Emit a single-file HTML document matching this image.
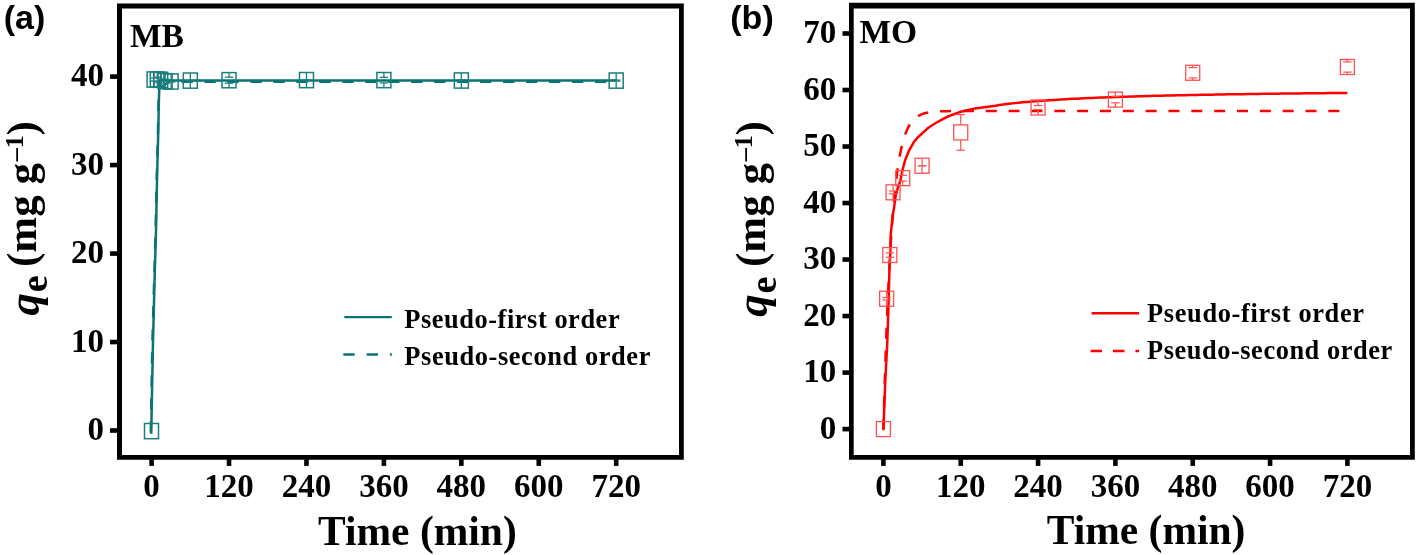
<!DOCTYPE html>
<html><head><meta charset="utf-8"><style>
html,body{margin:0;padding:0;background:#fff;}
body{width:1418px;height:555px;overflow:hidden;font-family:"Liberation Serif",serif;}
svg{display:block;will-change:transform;}
</style></head><body>
<svg width="1418" height="555" viewBox="0 0 1418 555">
<rect width="1418" height="555" fill="#fff"/>
<path fill-rule="evenodd" fill="#000" d="M117,3.5H683.8V459.7H117Z M122,8.6V455H679V8.6Z"/>
<rect x="110.00" y="428.20" width="7.50" height="4.60" fill="#000"/>
<text x="104.0" y="440.00" text-anchor="end" font-family="Liberation Serif" font-weight="bold" font-size="33">0</text>
<rect x="110.00" y="339.72" width="7.50" height="4.60" fill="#000"/>
<text x="104.0" y="351.52" text-anchor="end" font-family="Liberation Serif" font-weight="bold" font-size="33">10</text>
<rect x="110.00" y="251.25" width="7.50" height="4.60" fill="#000"/>
<text x="104.0" y="263.05" text-anchor="end" font-family="Liberation Serif" font-weight="bold" font-size="33">20</text>
<rect x="110.00" y="162.77" width="7.50" height="4.60" fill="#000"/>
<text x="104.0" y="174.57" text-anchor="end" font-family="Liberation Serif" font-weight="bold" font-size="33">30</text>
<rect x="110.00" y="74.30" width="7.50" height="4.60" fill="#000"/>
<text x="104.0" y="86.10" text-anchor="end" font-family="Liberation Serif" font-weight="bold" font-size="33">40</text>
<rect x="149.30" y="459.20" width="4.60" height="6.70" fill="#000"/>
<text x="151.60" y="497.1" text-anchor="middle" font-family="Liberation Serif" font-weight="bold" font-size="33">0</text>
<rect x="226.73" y="459.20" width="4.60" height="6.70" fill="#000"/>
<text x="229.03" y="497.1" text-anchor="middle" font-family="Liberation Serif" font-weight="bold" font-size="33">120</text>
<rect x="304.17" y="459.20" width="4.60" height="6.70" fill="#000"/>
<text x="306.47" y="497.1" text-anchor="middle" font-family="Liberation Serif" font-weight="bold" font-size="33">240</text>
<rect x="381.60" y="459.20" width="4.60" height="6.70" fill="#000"/>
<text x="383.90" y="497.1" text-anchor="middle" font-family="Liberation Serif" font-weight="bold" font-size="33">360</text>
<rect x="459.03" y="459.20" width="4.60" height="6.70" fill="#000"/>
<text x="461.33" y="497.1" text-anchor="middle" font-family="Liberation Serif" font-weight="bold" font-size="33">480</text>
<rect x="536.47" y="459.20" width="4.60" height="6.70" fill="#000"/>
<text x="538.77" y="497.1" text-anchor="middle" font-family="Liberation Serif" font-weight="bold" font-size="33">600</text>
<rect x="613.90" y="459.20" width="4.60" height="6.70" fill="#000"/>
<text x="616.20" y="497.1" text-anchor="middle" font-family="Liberation Serif" font-weight="bold" font-size="33">720</text>
<path fill-rule="evenodd" fill="#000" d="M849,2.7H1414.8V459.7H849Z M853.7,8.5V455.1H1410V8.5Z"/>
<rect x="842.50" y="426.80" width="7.00" height="4.60" fill="#000"/>
<text x="836.2" y="438.60" text-anchor="end" font-family="Liberation Serif" font-weight="bold" font-size="33">0</text>
<rect x="842.50" y="370.29" width="7.00" height="4.60" fill="#000"/>
<text x="836.2" y="382.09" text-anchor="end" font-family="Liberation Serif" font-weight="bold" font-size="33">10</text>
<rect x="842.50" y="313.77" width="7.00" height="4.60" fill="#000"/>
<text x="836.2" y="325.57" text-anchor="end" font-family="Liberation Serif" font-weight="bold" font-size="33">20</text>
<rect x="842.50" y="257.26" width="7.00" height="4.60" fill="#000"/>
<text x="836.2" y="269.06" text-anchor="end" font-family="Liberation Serif" font-weight="bold" font-size="33">30</text>
<rect x="842.50" y="200.74" width="7.00" height="4.60" fill="#000"/>
<text x="836.2" y="212.54" text-anchor="end" font-family="Liberation Serif" font-weight="bold" font-size="33">40</text>
<rect x="842.50" y="144.23" width="7.00" height="4.60" fill="#000"/>
<text x="836.2" y="156.03" text-anchor="end" font-family="Liberation Serif" font-weight="bold" font-size="33">50</text>
<rect x="842.50" y="87.71" width="7.00" height="4.60" fill="#000"/>
<text x="836.2" y="99.51" text-anchor="end" font-family="Liberation Serif" font-weight="bold" font-size="33">60</text>
<rect x="842.50" y="31.20" width="7.00" height="4.60" fill="#000"/>
<text x="836.2" y="43.00" text-anchor="end" font-family="Liberation Serif" font-weight="bold" font-size="33">70</text>
<rect x="881.10" y="459.20" width="4.60" height="6.70" fill="#000"/>
<text x="883.40" y="497.1" text-anchor="middle" font-family="Liberation Serif" font-weight="bold" font-size="33">0</text>
<rect x="958.43" y="459.20" width="4.60" height="6.70" fill="#000"/>
<text x="960.73" y="497.1" text-anchor="middle" font-family="Liberation Serif" font-weight="bold" font-size="33">120</text>
<rect x="1035.77" y="459.20" width="4.60" height="6.70" fill="#000"/>
<text x="1038.07" y="497.1" text-anchor="middle" font-family="Liberation Serif" font-weight="bold" font-size="33">240</text>
<rect x="1113.10" y="459.20" width="4.60" height="6.70" fill="#000"/>
<text x="1115.40" y="497.1" text-anchor="middle" font-family="Liberation Serif" font-weight="bold" font-size="33">360</text>
<rect x="1190.43" y="459.20" width="4.60" height="6.70" fill="#000"/>
<text x="1192.73" y="497.1" text-anchor="middle" font-family="Liberation Serif" font-weight="bold" font-size="33">480</text>
<rect x="1267.77" y="459.20" width="4.60" height="6.70" fill="#000"/>
<text x="1270.07" y="497.1" text-anchor="middle" font-family="Liberation Serif" font-weight="bold" font-size="33">600</text>
<rect x="1345.10" y="459.20" width="4.60" height="6.70" fill="#000"/>
<text x="1347.40" y="497.1" text-anchor="middle" font-family="Liberation Serif" font-weight="bold" font-size="33">720</text>
<text x="130" y="46.6" font-family="Liberation Serif" font-weight="bold" font-size="33.5">MB</text>
<text x="859.5" y="43.4" font-family="Liberation Serif" font-weight="bold" font-size="33.5">MO</text>
<text x="3.8" y="28.6" font-family="Liberation Sans" font-weight="bold" font-size="34">(a)</text>
<text x="730.3" y="28.6" font-family="Liberation Sans" font-weight="bold" font-size="34">(b)</text>
<text x="417.4" y="544.6" text-anchor="middle" font-family="Liberation Serif" font-weight="bold" font-size="41.5">Time (min)</text>
<text x="1146.1" y="543.8" text-anchor="middle" font-family="Liberation Serif" font-weight="bold" font-size="41.5">Time (min)</text>
<text transform="translate(38.50,315.50) rotate(-90)" font-family="Liberation Serif" font-weight="bold" font-size="45" font-style="italic">q</text>
<text transform="translate(47.30,292.30) rotate(-90)" font-family="Liberation Serif" font-weight="bold" font-size="38" >e</text>
<text transform="translate(36.30,267.00) rotate(-90)" font-family="Liberation Serif" font-weight="bold" font-size="43" >(mg g</text>
<text transform="translate(23.20,161.20) rotate(-90)" font-family="Liberation Serif" font-weight="bold" font-size="26" >–1</text>
<text transform="translate(36.30,135.40) rotate(-90)" font-family="Liberation Serif" font-weight="bold" font-size="43" >)</text>
<text transform="translate(767.00,316.80) rotate(-90)" font-family="Liberation Serif" font-weight="bold" font-size="45" font-style="italic">q</text>
<text transform="translate(775.80,293.60) rotate(-90)" font-family="Liberation Serif" font-weight="bold" font-size="38" >e</text>
<text transform="translate(764.80,267.00) rotate(-90)" font-family="Liberation Serif" font-weight="bold" font-size="43" >(mg g</text>
<text transform="translate(751.70,161.20) rotate(-90)" font-family="Liberation Serif" font-weight="bold" font-size="26" >–1</text>
<text transform="translate(764.80,135.40) rotate(-90)" font-family="Liberation Serif" font-weight="bold" font-size="43" >)</text>
<line x1="344.3" y1="317.1" x2="391.8" y2="317.1" stroke="#0a7373" stroke-width="2.4"/>
<line x1="343.3" y1="354.5" x2="391.8" y2="354.5" stroke="#0a7373" stroke-width="2.4" stroke-dasharray="11.4 11.9"/>
<text x="404.3" y="327.9" font-family="Liberation Serif" font-weight="bold" font-size="26.4" letter-spacing="0.55">Pseudo-first order</text>
<text x="404.3" y="364.9" font-family="Liberation Serif" font-weight="bold" font-size="26.4" letter-spacing="0.6">Pseudo-second order</text>
<line x1="1091.6" y1="313.3" x2="1139.1" y2="313.3" stroke="#ff0000" stroke-width="2.4"/>
<line x1="1090.6" y1="351" x2="1139.1" y2="351" stroke="#ff0000" stroke-width="2.4" stroke-dasharray="11.5 10.9"/>
<text x="1147" y="322.2" font-family="Liberation Serif" font-weight="bold" font-size="26.4" letter-spacing="0.65">Pseudo-first order</text>
<text x="1147" y="358.6" font-family="Liberation Serif" font-weight="bold" font-size="26.4" letter-spacing="0.55">Pseudo-second order</text>
<polyline points="150.80,433.80 152.30,346.00 154.00,286.00 155.60,231.00 156.80,176.00 158.00,130.00 158.60,100.00 159.60,90.00 163.00,86.00 168.00,82.50 172.00,81.80 616.20,81.80" fill="none" stroke="#0a7373" stroke-width="2.5" stroke-dasharray="11.3 11.67" stroke-dashoffset="21.63"/>
<polyline points="151.20,433.80 152.90,346.00 154.40,286.00 156.00,231.00 157.10,176.00 158.30,130.00 158.90,100.00 159.30,88.00 160.20,80.60 616.20,80.60" fill="none" stroke="#0a7373" stroke-width="2.5"/>
<rect x="144.50" y="423.50" width="14" height="15.2" fill="none" stroke="#1b7e7e" stroke-width="1.5"/>
<rect x="147.10" y="71.90" width="14" height="15.2" fill="none" stroke="#1b7e7e" stroke-width="1.5"/>
<line x1="154.10" y1="72.00" x2="154.10" y2="78.00" stroke="#1b7e7e" stroke-width="1.3"/><line x1="149.90" y1="78.00" x2="158.30" y2="78.00" stroke="#1b7e7e" stroke-width="1.3"/><line x1="154.10" y1="87.00" x2="154.10" y2="81.00" stroke="#1b7e7e" stroke-width="1.3"/><line x1="149.90" y1="81.00" x2="158.30" y2="81.00" stroke="#1b7e7e" stroke-width="1.3"/>
<rect x="150.30" y="72.00" width="14" height="15.2" fill="none" stroke="#1b7e7e" stroke-width="1.5"/>
<line x1="157.30" y1="72.10" x2="157.30" y2="77.10" stroke="#1b7e7e" stroke-width="1.3"/><line x1="153.10" y1="77.10" x2="161.50" y2="77.10" stroke="#1b7e7e" stroke-width="1.3"/><line x1="157.30" y1="87.10" x2="157.30" y2="82.10" stroke="#1b7e7e" stroke-width="1.3"/><line x1="153.10" y1="82.10" x2="161.50" y2="82.10" stroke="#1b7e7e" stroke-width="1.3"/>
<rect x="153.70" y="72.20" width="14" height="15.2" fill="none" stroke="#1b7e7e" stroke-width="1.5"/>
<line x1="160.70" y1="72.30" x2="160.70" y2="78.80" stroke="#1b7e7e" stroke-width="1.3"/><line x1="156.50" y1="78.80" x2="164.90" y2="78.80" stroke="#1b7e7e" stroke-width="1.3"/><line x1="160.70" y1="87.30" x2="160.70" y2="80.80" stroke="#1b7e7e" stroke-width="1.3"/><line x1="156.50" y1="80.80" x2="164.90" y2="80.80" stroke="#1b7e7e" stroke-width="1.3"/>
<rect x="158.10" y="73.60" width="14" height="15.2" fill="none" stroke="#1b7e7e" stroke-width="1.5"/>
<line x1="165.10" y1="73.70" x2="165.10" y2="79.20" stroke="#1b7e7e" stroke-width="1.3"/><line x1="160.90" y1="79.20" x2="169.30" y2="79.20" stroke="#1b7e7e" stroke-width="1.3"/><line x1="165.10" y1="88.70" x2="165.10" y2="83.20" stroke="#1b7e7e" stroke-width="1.3"/><line x1="160.90" y1="83.20" x2="169.30" y2="83.20" stroke="#1b7e7e" stroke-width="1.3"/>
<rect x="164.10" y="73.90" width="14" height="15.2" fill="none" stroke="#1b7e7e" stroke-width="1.5"/>
<line x1="171.10" y1="74.00" x2="171.10" y2="81.00" stroke="#1b7e7e" stroke-width="1.3"/><line x1="166.90" y1="81.00" x2="175.30" y2="81.00" stroke="#1b7e7e" stroke-width="1.3"/><line x1="171.10" y1="89.00" x2="171.10" y2="82.00" stroke="#1b7e7e" stroke-width="1.3"/><line x1="166.90" y1="82.00" x2="175.30" y2="82.00" stroke="#1b7e7e" stroke-width="1.3"/>
<rect x="183.32" y="73.00" width="14" height="15.2" fill="none" stroke="#1b7e7e" stroke-width="1.5"/>
<line x1="190.32" y1="73.10" x2="190.32" y2="80.60" stroke="#1b7e7e" stroke-width="1.3"/><line x1="186.12" y1="80.60" x2="194.52" y2="80.60" stroke="#1b7e7e" stroke-width="1.3"/><line x1="190.32" y1="88.10" x2="190.32" y2="80.60" stroke="#1b7e7e" stroke-width="1.3"/><line x1="186.12" y1="80.60" x2="194.52" y2="80.60" stroke="#1b7e7e" stroke-width="1.3"/>
<rect x="222.03" y="72.60" width="14" height="15.2" fill="none" stroke="#1b7e7e" stroke-width="1.5"/>
<line x1="229.03" y1="72.70" x2="229.03" y2="77.20" stroke="#1b7e7e" stroke-width="1.3"/><line x1="224.83" y1="77.20" x2="233.23" y2="77.20" stroke="#1b7e7e" stroke-width="1.3"/><line x1="229.03" y1="87.70" x2="229.03" y2="83.20" stroke="#1b7e7e" stroke-width="1.3"/><line x1="224.83" y1="83.20" x2="233.23" y2="83.20" stroke="#1b7e7e" stroke-width="1.3"/>
<rect x="299.47" y="72.50" width="14" height="15.2" fill="none" stroke="#1b7e7e" stroke-width="1.5"/>
<line x1="306.47" y1="72.60" x2="306.47" y2="80.10" stroke="#1b7e7e" stroke-width="1.3"/><line x1="302.27" y1="80.10" x2="310.67" y2="80.10" stroke="#1b7e7e" stroke-width="1.3"/><line x1="306.47" y1="87.60" x2="306.47" y2="80.10" stroke="#1b7e7e" stroke-width="1.3"/><line x1="302.27" y1="80.10" x2="310.67" y2="80.10" stroke="#1b7e7e" stroke-width="1.3"/>
<rect x="376.90" y="72.50" width="14" height="15.2" fill="none" stroke="#1b7e7e" stroke-width="1.5"/>
<line x1="383.90" y1="72.60" x2="383.90" y2="77.30" stroke="#1b7e7e" stroke-width="1.3"/><line x1="379.70" y1="77.30" x2="388.10" y2="77.30" stroke="#1b7e7e" stroke-width="1.3"/><line x1="383.90" y1="87.60" x2="383.90" y2="82.90" stroke="#1b7e7e" stroke-width="1.3"/><line x1="379.70" y1="82.90" x2="388.10" y2="82.90" stroke="#1b7e7e" stroke-width="1.3"/>
<rect x="454.33" y="72.90" width="14" height="15.2" fill="none" stroke="#1b7e7e" stroke-width="1.5"/>
<line x1="461.33" y1="73.00" x2="461.33" y2="80.00" stroke="#1b7e7e" stroke-width="1.3"/><line x1="457.13" y1="80.00" x2="465.53" y2="80.00" stroke="#1b7e7e" stroke-width="1.3"/><line x1="461.33" y1="88.00" x2="461.33" y2="81.00" stroke="#1b7e7e" stroke-width="1.3"/><line x1="457.13" y1="81.00" x2="465.53" y2="81.00" stroke="#1b7e7e" stroke-width="1.3"/>
<rect x="609.20" y="73.00" width="14" height="15.2" fill="none" stroke="#1b7e7e" stroke-width="1.5"/>
<line x1="616.20" y1="73.10" x2="616.20" y2="80.10" stroke="#1b7e7e" stroke-width="1.3"/><line x1="612.00" y1="80.10" x2="620.40" y2="80.10" stroke="#1b7e7e" stroke-width="1.3"/><line x1="616.20" y1="88.10" x2="616.20" y2="81.10" stroke="#1b7e7e" stroke-width="1.3"/><line x1="612.00" y1="81.10" x2="620.40" y2="81.10" stroke="#1b7e7e" stroke-width="1.3"/>
<polyline points="883.40,429.10 883.72,417.09 884.04,405.52 884.37,394.40 884.69,383.70 885.01,373.40 885.33,363.48 885.66,353.95 885.98,344.77 886.30,335.94 886.62,327.45 886.94,319.27 887.27,311.40 887.59,303.83 887.91,296.55 888.23,289.54 888.56,282.80 888.88,276.31 889.20,270.06 889.52,264.06 889.84,258.27 890.17,252.71 890.49,247.36 890.81,242.21 891.13,237.25 891.46,232.48 891.78,227.89 892.10,223.48 892.42,219.23 892.74,215.14 893.07,211.21 893.39,207.42 893.71,203.78 894.03,200.27 894.36,196.90 894.68,193.66 895.00,190.53 895.32,187.53 895.64,184.64 895.97,181.86 896.29,179.18 896.61,176.60 896.93,174.13 897.26,171.74 897.58,169.45 897.90,167.24 898.22,165.11 898.54,163.07 898.87,161.10 899.19,159.21 899.51,157.39 899.83,155.63 900.16,153.95 900.48,152.33 900.80,150.76 901.12,149.26 901.44,147.82 901.77,146.42 902.09,145.09 902.41,143.80 902.73,142.56 903.06,141.37 903.38,140.22 903.70,139.11 904.02,138.05 904.34,137.03 904.67,136.04 904.99,135.10 905.31,134.19 905.63,133.31 905.96,132.47 906.28,131.66 906.60,130.88 906.92,130.12 907.24,129.40 907.57,128.71 907.89,128.04 908.21,127.39 908.53,126.77 908.86,126.18 909.18,125.60 911.76,121.73 914.33,118.88 916.91,116.78 919.49,115.25 922.07,114.12 924.64,113.28 927.22,112.67 929.80,112.23 932.38,111.90 934.96,111.65 937.53,111.47 940.11,111.34 942.69,111.25 945.27,111.18 947.84,111.13 950.42,111.09 953.00,111.06 955.58,111.04 958.16,111.02 960.73,111.01 963.31,111.00 965.89,111.00 968.47,110.99 971.04,110.99 973.62,110.99 976.20,110.99 978.78,110.98 981.36,110.98 983.93,110.98 986.51,110.98 989.09,110.98 991.67,110.98 994.24,110.98 996.82,110.98 999.40,110.98 1001.98,110.98 1004.56,110.98 1007.13,110.98 1009.71,110.98 1012.29,110.98 1014.87,110.98 1017.44,110.98 1020.02,110.98 1022.60,110.98 1025.18,110.98 1027.76,110.98 1030.33,110.98 1032.91,110.98 1035.49,110.98 1038.07,110.98 1040.64,110.98 1043.22,110.98 1045.80,110.98 1048.38,110.98 1050.96,110.98 1053.53,110.98 1056.11,110.98 1058.69,110.98 1061.27,110.98 1063.84,110.98 1066.42,110.98 1069.00,110.98 1071.58,110.98 1074.16,110.98 1076.73,110.98 1079.31,110.98 1081.89,110.98 1084.47,110.98 1087.04,110.98 1089.62,110.98 1092.20,110.98 1094.78,110.98 1097.36,110.98 1099.93,110.98 1102.51,110.98 1105.09,110.98 1107.67,110.98 1110.24,110.98 1112.82,110.98 1115.40,110.98 1117.98,110.98 1120.56,110.98 1123.13,110.98 1125.71,110.98 1128.29,110.98 1130.87,110.98 1133.44,110.98 1136.02,110.98 1138.60,110.98 1141.18,110.98 1143.76,110.98 1146.33,110.98 1148.91,110.98 1151.49,110.98 1154.07,110.98 1156.64,110.98 1159.22,110.98 1161.80,110.98 1164.38,110.98 1166.96,110.98 1169.53,110.98 1172.11,110.98 1174.69,110.98 1177.27,110.98 1179.84,110.98 1182.42,110.98 1185.00,110.98 1187.58,110.98 1190.16,110.98 1192.73,110.98 1195.31,110.98 1197.89,110.98 1200.47,110.98 1203.04,110.98 1205.62,110.98 1208.20,110.98 1210.78,110.98 1213.36,110.98 1215.93,110.98 1218.51,110.98 1221.09,110.98 1223.67,110.98 1226.24,110.98 1228.82,110.98 1231.40,110.98 1233.98,110.98 1236.56,110.98 1239.13,110.98 1241.71,110.98 1244.29,110.98 1246.87,110.98 1249.44,110.98 1252.02,110.98 1254.60,110.98 1257.18,110.98 1259.76,110.98 1262.33,110.98 1264.91,110.98 1267.49,110.98 1270.07,110.98 1272.64,110.98 1275.22,110.98 1277.80,110.98 1280.38,110.98 1282.96,110.98 1285.53,110.98 1288.11,110.98 1290.69,110.98 1293.27,110.98 1295.84,110.98 1298.42,110.98 1301.00,110.98 1303.58,110.98 1306.16,110.98 1308.73,110.98 1311.31,110.98 1313.89,110.98 1316.47,110.98 1319.04,110.98 1321.62,110.98 1324.20,110.98 1326.78,110.98 1329.36,110.98 1331.93,110.98 1334.51,110.98 1337.09,110.98 1339.67,110.98 1342.24,110.98 1344.82,110.98 1347.40,110.98" fill="none" stroke="#ff0000" stroke-width="2.5" stroke-dasharray="11 11.84" stroke-dashoffset="0.94"/>
<polyline points="883.40,430.30 885.30,380.80 887.20,345.00 888.60,302.00 889.40,271.00 890.20,255.00 890.80,233.50 892.70,216.00 894.50,204.60 895.60,196.00 898.00,187.20 900.20,181.40 902.50,170.00 905.20,160.00 909.00,150.50 913.80,142.20 917.50,137.70 921.00,134.50 928.00,128.00 937.70,121.80 948.00,116.50 960.80,111.70 975.00,108.50 995.40,105.70 999.40,104.95 1003.27,104.45 1007.13,103.98 1011.00,103.53 1014.87,103.12 1018.73,102.72 1022.60,102.35 1026.47,102.00 1030.33,101.66 1034.20,101.34 1038.07,101.04 1041.93,100.75 1045.80,100.47 1049.67,100.20 1053.53,99.95 1057.40,99.71 1061.27,99.48 1065.13,99.26 1069.00,99.04 1072.87,98.84 1076.73,98.64 1080.60,98.45 1084.47,98.27 1088.33,98.10 1092.20,97.93 1096.07,97.76 1099.93,97.61 1103.80,97.45 1107.67,97.31 1111.53,97.17 1115.40,97.03 1119.27,96.90 1123.13,96.77 1127.00,96.64 1130.87,96.52 1134.73,96.40 1138.60,96.29 1142.47,96.18 1146.33,96.07 1150.20,95.97 1154.07,95.87 1157.93,95.77 1161.80,95.67 1165.67,95.58 1169.53,95.49 1173.40,95.40 1177.27,95.31 1181.13,95.23 1185.00,95.15 1188.87,95.07 1192.73,94.99 1196.60,94.91 1200.47,94.84 1204.33,94.77 1208.20,94.69 1212.07,94.63 1215.93,94.56 1219.80,94.49 1223.67,94.43 1227.53,94.36 1231.40,94.30 1235.27,94.24 1239.13,94.18 1243.00,94.13 1246.87,94.07 1250.73,94.01 1254.60,93.96 1258.47,93.91 1262.33,93.85 1266.20,93.80 1270.07,93.75 1273.93,93.70 1277.80,93.65 1281.67,93.61 1285.53,93.56 1289.40,93.52 1293.27,93.47 1297.13,93.43 1301.00,93.38 1304.87,93.34 1308.73,93.30 1312.60,93.26 1316.47,93.22 1320.33,93.18 1324.20,93.14 1328.07,93.10 1331.93,93.07 1335.80,93.03 1339.67,92.99 1343.53,92.96 1347.40,92.92" fill="none" stroke="#ff0000" stroke-width="2.5"/>
<rect x="876.40" y="421.60" width="14" height="15" fill="none" stroke="#ff5050" stroke-width="1.3"/>
<rect x="879.62" y="291.22" width="14" height="15" fill="none" stroke="#ff5050" stroke-width="1.3"/>
<line x1="886.62" y1="291.22" x2="886.62" y2="297.52" stroke="#ff5050" stroke-width="1.2"/><line x1="882.42" y1="297.52" x2="890.82" y2="297.52" stroke="#ff5050" stroke-width="1.2"/><line x1="886.62" y1="306.22" x2="886.62" y2="299.92" stroke="#ff5050" stroke-width="1.2"/><line x1="882.42" y1="299.92" x2="890.82" y2="299.92" stroke="#ff5050" stroke-width="1.2"/>
<rect x="882.84" y="247.54" width="14" height="15" fill="none" stroke="#ff5050" stroke-width="1.3"/>
<line x1="889.84" y1="247.54" x2="889.84" y2="252.84" stroke="#ff5050" stroke-width="1.2"/><line x1="885.64" y1="252.84" x2="894.04" y2="252.84" stroke="#ff5050" stroke-width="1.2"/><line x1="889.84" y1="262.54" x2="889.84" y2="257.24" stroke="#ff5050" stroke-width="1.2"/><line x1="885.64" y1="257.24" x2="894.04" y2="257.24" stroke="#ff5050" stroke-width="1.2"/>
<rect x="886.07" y="184.81" width="14" height="15" fill="none" stroke="#ff5050" stroke-width="1.3"/>
<line x1="893.07" y1="184.81" x2="893.07" y2="190.91" stroke="#ff5050" stroke-width="1.2"/><line x1="888.87" y1="190.91" x2="897.27" y2="190.91" stroke="#ff5050" stroke-width="1.2"/><line x1="893.07" y1="199.81" x2="893.07" y2="193.71" stroke="#ff5050" stroke-width="1.2"/><line x1="888.87" y1="193.71" x2="897.27" y2="193.71" stroke="#ff5050" stroke-width="1.2"/>
<rect x="895.73" y="170.68" width="14" height="15" fill="none" stroke="#ff5050" stroke-width="1.3"/>
<line x1="902.73" y1="170.68" x2="902.73" y2="175.28" stroke="#ff5050" stroke-width="1.2"/><line x1="898.53" y1="175.28" x2="906.93" y2="175.28" stroke="#ff5050" stroke-width="1.2"/><line x1="902.73" y1="185.68" x2="902.73" y2="181.08" stroke="#ff5050" stroke-width="1.2"/><line x1="898.53" y1="181.08" x2="906.93" y2="181.08" stroke="#ff5050" stroke-width="1.2"/>
<rect x="915.07" y="158.24" width="14" height="15" fill="none" stroke="#ff5050" stroke-width="1.3"/>
<line x1="922.07" y1="158.24" x2="922.07" y2="165.74" stroke="#ff5050" stroke-width="1.2"/><line x1="917.87" y1="165.74" x2="926.27" y2="165.74" stroke="#ff5050" stroke-width="1.2"/><line x1="922.07" y1="173.24" x2="922.07" y2="165.74" stroke="#ff5050" stroke-width="1.2"/><line x1="917.87" y1="165.74" x2="926.27" y2="165.74" stroke="#ff5050" stroke-width="1.2"/>
<rect x="953.73" y="124.90" width="14" height="15" fill="none" stroke="#ff5050" stroke-width="1.3"/>
<line x1="960.73" y1="124.90" x2="960.73" y2="114.60" stroke="#ff5050" stroke-width="1.2"/><line x1="956.53" y1="114.60" x2="964.93" y2="114.60" stroke="#ff5050" stroke-width="1.2"/><line x1="960.73" y1="139.90" x2="960.73" y2="150.20" stroke="#ff5050" stroke-width="1.2"/><line x1="956.53" y1="150.20" x2="964.93" y2="150.20" stroke="#ff5050" stroke-width="1.2"/>
<rect x="1031.07" y="100.03" width="14" height="15" fill="none" stroke="#ff5050" stroke-width="1.3"/>
<line x1="1038.07" y1="100.03" x2="1038.07" y2="105.53" stroke="#ff5050" stroke-width="1.2"/><line x1="1033.87" y1="105.53" x2="1042.27" y2="105.53" stroke="#ff5050" stroke-width="1.2"/><line x1="1038.07" y1="115.03" x2="1038.07" y2="109.53" stroke="#ff5050" stroke-width="1.2"/><line x1="1033.87" y1="109.53" x2="1042.27" y2="109.53" stroke="#ff5050" stroke-width="1.2"/>
<rect x="1108.40" y="92.12" width="14" height="15" fill="none" stroke="#ff5050" stroke-width="1.3"/>
<line x1="1115.40" y1="92.12" x2="1115.40" y2="96.42" stroke="#ff5050" stroke-width="1.2"/><line x1="1111.20" y1="96.42" x2="1119.60" y2="96.42" stroke="#ff5050" stroke-width="1.2"/><line x1="1115.40" y1="107.12" x2="1115.40" y2="102.82" stroke="#ff5050" stroke-width="1.2"/><line x1="1111.20" y1="102.82" x2="1119.60" y2="102.82" stroke="#ff5050" stroke-width="1.2"/>
<rect x="1185.73" y="65.28" width="14" height="15" fill="none" stroke="#ff5050" stroke-width="1.3"/>
<line x1="1192.73" y1="65.28" x2="1192.73" y2="67.63" stroke="#ff5050" stroke-width="1.2"/><line x1="1188.53" y1="67.63" x2="1196.93" y2="67.63" stroke="#ff5050" stroke-width="1.2"/><line x1="1192.73" y1="80.28" x2="1192.73" y2="77.93" stroke="#ff5050" stroke-width="1.2"/><line x1="1188.53" y1="77.93" x2="1196.93" y2="77.93" stroke="#ff5050" stroke-width="1.2"/>
<rect x="1340.40" y="59.51" width="14" height="15" fill="none" stroke="#ff5050" stroke-width="1.3"/>
<line x1="1347.40" y1="59.51" x2="1347.40" y2="61.91" stroke="#ff5050" stroke-width="1.2"/><line x1="1343.20" y1="61.91" x2="1351.60" y2="61.91" stroke="#ff5050" stroke-width="1.2"/><line x1="1347.40" y1="74.51" x2="1347.40" y2="72.11" stroke="#ff5050" stroke-width="1.2"/><line x1="1343.20" y1="72.11" x2="1351.60" y2="72.11" stroke="#ff5050" stroke-width="1.2"/>
</svg>
</body></html>
